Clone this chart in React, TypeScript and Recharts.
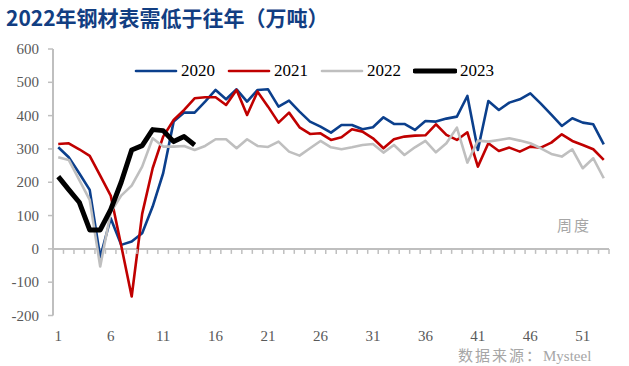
import { ComposedChart, Line, XAxis, YAxis, ReferenceLine } from 'recharts';

const weeks = Array.from({ length: 53 }, (_, i) => String(i + 1));

const s2020 = [305, 275, 227, 177, -25, 92, 12, 22, 47, 127, 227, 382, 409, 409, 442, 477, 449, 479, 442, 477, 479, 427, 445, 412, 382, 367, 349, 372, 372, 359, 365, 395, 375, 375, 357, 384, 382, 391, 397, 459, 297, 444, 417, 439, 449, 467, 436, 403, 369, 392, 379, 374, 314];
const s2021 = [315, 317, 299, 279, 220, 160, 10, -143, 105, 242, 337, 387, 417, 452, 455, 455, 432, 477, 402, 472, 427, 379, 409, 365, 345, 347, 327, 335, 359, 352, 332, 302, 329, 337, 340, 341, 374, 342, 327, 350, 247, 317, 294, 304, 292, 307, 304, 319, 344, 324, 312, 299, 267];
const s2022 = [275, 267, 207, 147, -53, 110, 160, 190, 247, 332, 307, 307, 309, 297, 309, 329, 329, 302, 329, 309, 306, 322, 292, 280, 302, 324, 305, 299, 305, 312, 315, 289, 312, 282, 305, 324, 290, 317, 364, 259, 325, 322, 327, 332, 325, 317, 302, 285, 277, 299, 242, 272, 212];
const s2023 = [217, 178, 140, 57, 57, 118, 200, 297, 310, 358, 355, 322, 337, 312];

const yTicks = [-200, -100, 0, 100, 200, 300, 400, 500, 600];

const series = [
  { key: 'y2020', name: '2020', color: '#0B3F8C', width: 2.6 },
  { key: 'y2021', name: '2021', color: '#C00000', width: 2.6 },
  { key: 'y2022', name: '2022', color: '#BFBFBF', width: 2.6 },
  { key: 'y2023', name: '2023', color: '#000000', width: 5 },
];

const data = weeks.map((w, i) => ({
  week: w,
  y2020: s2020[i],
  y2021: s2021[i],
  y2022: s2022[i],
  y2023: i < s2023.length ? s2023[i] : null,
}));

const W = 629;
const H = 366;
const PLOT_TOP = 49;
const PLOT_LEFT = 53;
const PLOT_RIGHT = 609;
const PLOT_BOTTOM = 315.5;
const X_AXIS_H = 30;
const Y_AXIS_W = 45;
const PLOT_W = PLOT_RIGHT - PLOT_LEFT;
const ZERO_Y = PLOT_TOP + (PLOT_BOTTOM - PLOT_TOP) * (600 / 800);
const BAND = PLOT_W / weeks.length;
const serif = '"Liberation Serif", "DejaVu Serif", serif';
const axisGray = '#BFBFBF';

function WeekTick(props: any) {
  const { x, y, payload, index } = props;
  const left = x - BAND / 2;
  return (
    <g>
      <line x1={left} x2={left} y1={ZERO_Y} y2={ZERO_Y + 5} stroke={axisGray} strokeWidth={1.5} />
      {index === weeks.length - 1 && (
        <line x1={x + BAND / 2} x2={x + BAND / 2} y1={ZERO_Y} y2={ZERO_Y + 5} stroke={axisGray} strokeWidth={1.5} />
      )}
      {index % 5 === 0 && (
        <text x={x} y={y + 17} textAnchor="middle" fill="#595959" fontSize={15} style={{ fontFamily: serif }}>
          {payload.value}
        </text>
      )}
    </g>
  );
}

function ValueTick(props: any) {
  const { x, y, payload } = props;
  return (
    <text x={x} y={y} dy={5} textAnchor="end" fill="#595959" fontSize={15} style={{ fontFamily: serif }}>
      {payload.value}
    </text>
  );
}

function LegendBox() {
  return (
    <div style={{ display: 'flex', alignItems: 'center', fontFamily: serif, fontSize: 17, color: '#000' }}>
      {series.map((s) => (
        <div key={s.key} style={{ display: 'flex', alignItems: 'center', marginRight: 12 }}>
          <svg width={44} height={10} style={{ marginRight: 3 }}>
            <line x1={2} x2={42} y1={5} y2={5} stroke={s.color} strokeWidth={s.width} strokeLinecap="round" />
          </svg>
          <span>{s.name}</span>
        </div>
      ))}
    </div>
  );
}

export default function App() {
  return (
    <div style={{ position: 'absolute', left: 0, top: 0, width: W, height: H, background: '#fff' }}>
      <div
        style={{
          position: 'absolute',
          left: 6,
          top: 3,
          fontFamily: '"Noto Sans CJK SC", sans-serif',
          fontWeight: 700,
          fontSize: 21,
          lineHeight: '28px',
          color: '#123E82',
          whiteSpace: 'nowrap',
          zIndex: 2,
        }}
      >
        2022年钢材表需低于往年（万吨）
      </div>
      <ComposedChart
        width={W}
        height={H}
        data={data}
        margin={{ top: PLOT_TOP, right: W - PLOT_RIGHT, bottom: H - PLOT_BOTTOM - X_AXIS_H, left: PLOT_LEFT - Y_AXIS_W }}
      >
        <XAxis
          dataKey="week"
          scale="band"
          height={X_AXIS_H}
          interval={0}
          axisLine={false}
          tickLine={false}
          tick={<WeekTick />}
        />
        <YAxis
          width={Y_AXIS_W}
          domain={[-200, 600]}
          ticks={yTicks}
          interval={0}
          axisLine={{ stroke: axisGray, strokeWidth: 2 }}
          tickLine={{ stroke: axisGray, strokeWidth: 1.5 }}
          tickSize={5}
          tickMargin={9}
          tick={<ValueTick />}
        />
        <ReferenceLine y={0} stroke={axisGray} strokeWidth={2} />
        {series.map((s) => (
          <Line
            key={s.key}
            dataKey={s.key}
            name={s.name}
            stroke={s.color}
            strokeWidth={s.width}
            dot={false}
            activeDot={false}
            strokeLinejoin="round"
            connectNulls={false}
            isAnimationActive={false}
          />
        ))}
      </ComposedChart>
      <div style={{ position: 'absolute', left: 134, top: 61 }}>
        <LegendBox />
      </div>
      <div style={{ position: 'absolute', left: 557, top: 214, fontFamily: '"Noto Sans CJK SC", sans-serif', fontSize: 15, color: '#A6A6A6', letterSpacing: 2 }}>
        周度
      </div>
      <div style={{ position: 'absolute', left: 458, top: 347, lineHeight: '16px', fontFamily: serif, fontSize: 15, color: '#A6A6A6', whiteSpace: 'nowrap' }}>
        <span style={{ fontFamily: '"Noto Sans CJK SC", sans-serif', letterSpacing: 2 }}>数据来源：</span>Mysteel
      </div>
    </div>
  );
}
